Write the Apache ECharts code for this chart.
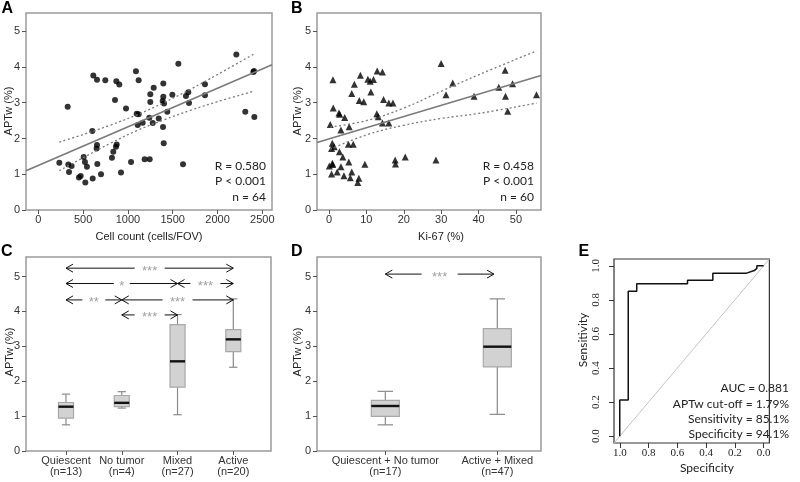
<!DOCTYPE html>
<html><head><meta charset="utf-8">
<script src="https://cdn.jsdelivr.net/npm/echarts@6/dist/echarts.min.js"></script>
<style>html,body{margin:0;padding:0;background:#fff}#c{width:800px;height:482px}</style>
</head><body><div id="c"></div>
<script>
// ---------- Panel A: APTw vs cell count ----------
const cellCount = [328,614,655,748,871,904,856,979,1090,1120,1098,1120,1109,1165,1250,1288,1250,1239,1277,1344,1395,1395,1388,1403,1440,1392,1400,1496,1563,1648,1674,1682,1860,1860,2210,2310,2411,2400,2407,603,655,651,867,875,822,837,507,1187,1243,235,335,372,343,521,543,659,700,607,525,473,454,923,1035,1615];
const aptwA = [2.89,3.76,3.64,3.63,3.60,3.51,3.08,2.84,3.88,3.63,2.69,2.68,2.38,2.44,3.24,3.42,3.02,2.58,2.43,2.56,3.54,3.17,3.05,2.98,2.75,2.32,1.87,3.22,4.09,3.19,3.29,2.99,3.52,3.21,4.35,2.75,2.60,3.86,3.89,2.21,1.82,1.72,1.77,1.83,1.46,1.63,1.48,1.42,1.42,1.32,1.27,1.23,1.06,1.34,1.21,1.29,1.00,0.88,0.77,0.95,0.91,1.05,1.34,1.28];
const fitAx = [-137, 2608];
const fitAy = [1.10, 4.06];
const ciAx = [235, 500, 800, 1100, 1400, 1700, 2000, 2410];
const ciAup = [1.90, 2.11, 2.37, 2.66, 3.00, 3.38, 3.79, 4.37];
const ciAlo = [1.10, 1.46, 1.86, 2.22, 2.52, 2.79, 3.03, 3.33];
const ticksAx = [0, 500, 1000, 1500, 2000, 2500];
const ticksY5 = [0, 1, 2, 3, 4, 5];
const statsA = ['R = 0.580', 'P < 0.001', 'n = 64'];

// ---------- Panel B: APTw vs Ki-67 ----------
const ki67 = [1.07,1.15,0.35,2.67,2.85,4.2,5.4,3.2,6.1,6.8,8.4,8.1,9.3,10.4,11.0,11.9,11.2,12.9,14.3,14.6,12.8,13.2,16.0,17.1,14.3,16.0,30.0,31.3,33.1,38.8,45.4,47.1,47.2,47.8,49.1,55.5,0.9,1.4,0.7,5.2,6.5,2.8,3.7,0.1,0.9,1.0,3.2,5.3,0.7,2.2,4.0,6.1,5.7,8.0,7.7,9.6,17.7,17.8,20.4,28.6];
const aptwB = [3.64,2.85,2.39,2.71,2.68,2.59,2.33,2.24,3.26,3.52,3.77,3.06,3.03,3.66,3.60,3.65,3.30,3.89,3.86,3.09,2.69,2.61,2.99,2.99,2.43,2.43,4.10,3.22,3.55,3.18,3.43,3.91,3.18,2.76,3.53,3.22,1.87,1.77,1.72,1.84,1.84,1.63,1.48,1.23,1.31,1.27,1.21,1.34,1.01,1.06,0.96,1.06,0.90,0.89,0.77,1.28,1.40,1.29,1.48,1.40];
const fitBx = [-3.2, 56.7];
const fitBy = [1.89, 3.76];
const ciBx = [0.35, 10, 20, 30, 40, 55.5];
const ciBup = [2.32, 2.50, 2.85, 3.32, 3.78, 4.45];
const ciBlo = [1.70, 2.10, 2.37, 2.56, 2.70, 2.99];
const ticksBx = [0, 10, 20, 30, 40, 50];
const statsB = ['R = 0.458', 'P < 0.001', 'n = 60'];

// ---------- Panel C: four groups ----------
const catsC = ['Quiescent\n(n=13)', 'No tumor\n(n=4)', 'Mixed\n(n=27)', 'Active\n(n=20)'];
const cMin = [0.75, 1.23, 1.04, 2.40];
const cQ1  = [0.94, 1.27, 1.83, 2.85];
const cMed = [1.27, 1.38, 2.57, 3.20];
const cQ3  = [1.39, 1.59, 3.62, 3.48];
const cMax = [1.63, 1.70, 3.91, 4.36];
// comparisons: from group, to group, height, significance
const cmpFrom = [1, 1, 3, 1, 2, 2];
const cmpTo   = [4, 3, 4, 2, 4, 3];
const cmpY    = [5.24, 4.80, 4.80, 4.33, 4.33, 3.90];
const cmpSig  = ['***', '*', '***', '**', '***', '***'];

// ---------- Panel D: two groups ----------
const catsD = ['Quiescent + No tumor\n(n=17)', 'Active + Mixed\n(n=47)'];
const dMin = [0.75, 1.05];
const dQ1  = [0.99, 2.41];
const dMed = [1.29, 2.99];
const dQ3  = [1.45, 3.51];
const dMax = [1.71, 4.36];
const cmpDFrom = [1.0];
const cmpDTo = [1.97];
const cmpDY = [5.07];
const cmpDSig = ['***'];

// ---------- Panel E: ROC ----------
const rocSpec = [1.0, 1.0, 0.941, 0.941, 0.882, 0.882, 0.529, 0.529, 0.353, 0.353, 0.118, 0.065, 0.047, 0.047, 0.0];
const rocSens = [0.0, 0.213, 0.213, 0.851, 0.851, 0.894, 0.894, 0.915, 0.915, 0.957, 0.957, 0.972, 0.985, 1.0, 1.0];
const diagSpec = [1.04, -0.04];
const diagSens = [-0.04, 1.04];
const ticksE = [0, 0.2, 0.4, 0.6, 0.8, 1.0];
const statsE = ['AUC = 0.881', 'APTw cut-off = 1.79%', 'Sensitivity = 85.1%', 'Specificity = 94.1%'];

// ---------- build ----------
const zip = (a, b) => a.map((v, i) => [v, b[i]]);
const SANS = '"Liberation Sans", Arial, sans-serif';
const CAL = 'Lato, "Open Sans", sans-serif';

function valAxis(gi, min, max, ticks, fmt, margin, extra) {
  return Object.assign({
    type: 'value', gridIndex: gi, min: min, max: max,
    splitLine: { show: false }, axisLine: { show: false, onZero: false },
    axisTick: { show: true, length: 4, lineStyle: { color: '#555' }, customValues: ticks },
    axisLabel: { color: '#333', fontSize: 11, fontFamily: SANS, margin: margin, customValues: ticks,
                 formatter: fmt, showMinLabel: true, showMaxLabel: true }
  }, extra || {});
}

function boxSeries(xi, yi, mins, q1, med, q3, maxs, bw) {
  const rows = mins.map((v, i) => [i + 1, v, q1[i], med[i], q3[i], maxs[i]]);
  return {
    type: 'custom', xAxisIndex: xi, yAxisIndex: yi, silent: true,
    dimensions: ['x', 'min', 'q1', 'med', 'q3', 'max'],
    encode: { x: 0, y: [1, 2, 3, 4, 5] },
    data: rows,
    renderItem(params, api) {
      const x = api.value(0);
      const pMin = api.coord([x, api.value(1)]);
      const pQ1 = api.coord([x, api.value(2)]);
      const pMed = api.coord([x, api.value(3)]);
      const pQ3 = api.coord([x, api.value(4)]);
      const pMax = api.coord([x, api.value(5)]);
      const w = api.size([bw, 0])[0];
      const cw = w * 0.55;
      const cx = pMed[0];
      const g = '#8a8a8a';
      return { type: 'group', children: [
        { type: 'line', shape: { x1: cx, y1: pMin[1], x2: cx, y2: pQ1[1] }, style: { stroke: g, lineWidth: 1.2 } },
        { type: 'line', shape: { x1: cx, y1: pQ3[1], x2: cx, y2: pMax[1] }, style: { stroke: g, lineWidth: 1.2 } },
        { type: 'line', shape: { x1: cx - cw / 2, y1: pMin[1], x2: cx + cw / 2, y2: pMin[1] }, style: { stroke: g, lineWidth: 1.2 } },
        { type: 'line', shape: { x1: cx - cw / 2, y1: pMax[1], x2: cx + cw / 2, y2: pMax[1] }, style: { stroke: g, lineWidth: 1.2 } },
        { type: 'rect', shape: { x: cx - w / 2, y: pQ3[1], width: w, height: pQ1[1] - pQ3[1] }, style: { fill: '#d2d2d2', stroke: '#a8a8a8', lineWidth: 1.2 } },
        { type: 'line', shape: { x1: cx - w / 2, y1: pMed[1], x2: cx + w / 2, y2: pMed[1] }, style: { stroke: '#111', lineWidth: 2.4 } }
      ]};
    }
  };
}

function arrowSeries(xi, yi, from, to, ys, sig, padExtra) {
  const rows = from.map((v, i) => [v, to[i], ys[i]]);
  return {
    type: 'custom', xAxisIndex: xi, yAxisIndex: yi, silent: true,
    dimensions: ['from', 'to', 'y'],
    encode: { x: [0, 1], y: 2 },
    data: rows,
    renderItem(params, api) {
      const p1 = api.coord([api.value(0), api.value(2)]);
      const p2 = api.coord([api.value(1), api.value(2)]);
      const lab = sig[params.dataIndex];
      const y = p1[1];
      const mid = (p1[0] + p2[0]) / 2;
      const hg = 4.5 + 3.5 * lab.length + (padExtra || 0);
      const ah = 7, aw = 4;
      const st = { stroke: '#111', lineWidth: 1, fill: null };
      return { type: 'group', children: [
        { type: 'line', shape: { x1: p1[0], y1: y, x2: mid - hg, y2: y }, style: st },
        { type: 'line', shape: { x1: mid + hg, y1: y, x2: p2[0], y2: y }, style: st },
        { type: 'polyline', shape: { points: [[p1[0] + ah, y - aw], [p1[0], y], [p1[0] + ah, y + aw]] }, style: st },
        { type: 'polyline', shape: { points: [[p2[0] - ah, y - aw], [p2[0], y], [p2[0] - ah, y + aw]] }, style: st },
        { type: 'text', x: mid, y: y + 3, style: { text: lab, fill: '#a0a0a0', font: '13px ' + SANS,
          align: 'center', verticalAlign: 'middle', textAlign: 'center', textVerticalAlign: 'middle' } }
      ]};
    }
  };
}

function txt(t, x, y, opt) {
  opt = opt || {};
  return {
    type: 'text', x: x, y: y, rotation: opt.rot || 0, silent: true,
    style: { text: t, fill: opt.color || '#222', font: opt.font || ('11px ' + SANS),
      align: opt.align || 'center', verticalAlign: 'middle',
      textAlign: opt.align || 'center', textVerticalAlign: 'middle' }
  };
}

const gridStyle = { show: true, borderColor: '#9a9a9a', borderWidth: 1.5, backgroundColor: 'transparent' };

const option = {
  animation: false,
  backgroundColor: '#fff',
  grid: [
    Object.assign({ left: 26, top: 13, width: 246, height: 197 }, gridStyle),
    Object.assign({ left: 317, top: 13, width: 224, height: 197 }, gridStyle),
    Object.assign({ left: 26, top: 257, width: 245, height: 194 }, gridStyle),
    Object.assign({ left: 317, top: 257, width: 224, height: 194 }, gridStyle),
    { show: true, left: 614, top: 259, width: 184, height: 184, borderColor: '#333', borderWidth: 1.2, backgroundColor: 'transparent' }
  ],
  xAxis: [
    valAxis(0, -137, 2608, ticksAx, v => String(v), 4),
    valAxis(1, -3.2, 56.7, ticksBx, v => String(v), 4),
    valAxis(2, 0.283, 4.676, [1, 2, 3, 4], v => catsC[Math.round(v) - 1], 5,
      { axisLabel: { color: '#333', fontSize: 11, fontFamily: SANS, margin: 5, lineHeight: 10.5, customValues: [1, 2, 3, 4],
        formatter: v => catsC[Math.round(v) - 1], showMinLabel: true, showMaxLabel: true } }),
    valAxis(3, 0.39, 2.39, [1, 2], v => catsD[Math.round(v) - 1], 5,
      { axisLabel: { color: '#333', fontSize: 11, fontFamily: SANS, margin: 5, lineHeight: 10.5, customValues: [1, 2],
        formatter: v => catsD[Math.round(v) - 1], showMinLabel: true, showMaxLabel: true } }),
    valAxis(4, -0.04, 1.04, ticksE, v => v.toFixed(1), 5,
      { inverse: true,
        axisTick: { show: true, length: 5, lineStyle: { color: '#333' }, customValues: ticksE },
        axisLabel: { color: '#222', fontSize: 11, fontFamily: '"Liberation Serif", serif', margin: 5, customValues: ticksE,
          formatter: v => v.toFixed(1), showMinLabel: true, showMaxLabel: true } })
  ],
  yAxis: [
    valAxis(0, 0, 5.51, ticksY5, v => String(v), 6),
    valAxis(1, 0, 5.51, ticksY5, v => String(v), 6),
    valAxis(2, 0, 5.56, ticksY5, v => String(v), 6),
    valAxis(3, 0, 5.56, ticksY5, v => String(v), 6),
    valAxis(4, -0.04, 1.04, ticksE, v => v.toFixed(1), 12,
      { axisTick: { show: true, length: 5, lineStyle: { color: '#333' }, customValues: ticksE },
        axisLabel: { color: '#222', fontSize: 11, fontFamily: '"Liberation Serif", serif', margin: 12, rotate: 90, customValues: ticksE,
          formatter: v => v.toFixed(1), showMinLabel: true, showMaxLabel: true } })
  ],
  series: [
    { type: 'line', xAxisIndex: 0, yAxisIndex: 0, data: zip(fitAx, fitAy), showSymbol: false, silent: true,
      lineStyle: { color: '#7a7a7a', width: 1.6 } },
    { type: 'line', xAxisIndex: 0, yAxisIndex: 0, data: zip(ciAx, ciAup), showSymbol: false, smooth: 0.4, silent: true,
      lineStyle: { color: '#7a7a7a', width: 1.3, type: [2, 2.5] } },
    { type: 'line', xAxisIndex: 0, yAxisIndex: 0, data: zip(ciAx, ciAlo), showSymbol: false, smooth: 0.4, silent: true,
      lineStyle: { color: '#7a7a7a', width: 1.3, type: [2, 2.5] } },
    { type: 'scatter', xAxisIndex: 0, yAxisIndex: 0, data: zip(cellCount, aptwA), symbol: 'circle', symbolSize: 6,
      itemStyle: { color: '#000' }, silent: true },

    { type: 'line', xAxisIndex: 1, yAxisIndex: 1, data: zip(fitBx, fitBy), showSymbol: false, silent: true,
      lineStyle: { color: '#7a7a7a', width: 1.6 } },
    { type: 'line', xAxisIndex: 1, yAxisIndex: 1, data: zip(ciBx, ciBup), showSymbol: false, smooth: 0.4, silent: true,
      lineStyle: { color: '#7a7a7a', width: 1.3, type: [2, 2.5] } },
    { type: 'line', xAxisIndex: 1, yAxisIndex: 1, data: zip(ciBx, ciBlo), showSymbol: false, smooth: 0.4, silent: true,
      lineStyle: { color: '#7a7a7a', width: 1.3, type: [2, 2.5] } },
    { type: 'scatter', xAxisIndex: 1, yAxisIndex: 1, data: zip(ki67, aptwB), symbol: 'triangle', symbolSize: 7,
      itemStyle: { color: '#000' }, silent: true },

    boxSeries(2, 2, cMin, cQ1, cMed, cQ3, cMax, 0.27),
    arrowSeries(2, 2, cmpFrom, cmpTo, cmpY, cmpSig, 0),
    boxSeries(3, 3, dMin, dQ1, dMed, dQ3, dMax, 0.25),
    arrowSeries(3, 3, cmpDFrom, cmpDTo, cmpDY, cmpDSig, 3),

    { type: 'line', xAxisIndex: 4, yAxisIndex: 4, data: zip(diagSpec, diagSens), showSymbol: false, silent: true,
      lineStyle: { color: '#c4c4c4', width: 1 } },
    { type: 'line', xAxisIndex: 4, yAxisIndex: 4, data: zip(rocSpec, rocSens), showSymbol: false, silent: true,
      lineStyle: { color: '#111', width: 1.5 } }
  ],
  graphic: [
    txt('A', 1.5, 9, { align: 'left', font: 'bold 16px ' + SANS, color: '#000' }),
    txt('B', 291, 9, { align: 'left', font: 'bold 16px ' + SANS, color: '#000' }),
    txt('C', 1, 251.5, { align: 'left', font: 'bold 16px ' + SANS, color: '#000' }),
    txt('D', 291, 251.5, { align: 'left', font: 'bold 16px ' + SANS, color: '#000' }),
    txt('E', 578.5, 251.5, { align: 'left', font: 'bold 16px ' + SANS, color: '#000' }),

    txt('APTw (%)', 9, 111, { rot: Math.PI / 2 }),
    txt('APTw (%)', 298, 111, { rot: Math.PI / 2 }),
    txt('APTw (%)', 10, 352, { rot: Math.PI / 2 }),
    txt('APTw (%)', 298, 352, { rot: Math.PI / 2 }),
    txt('Cell count (cells/FOV)', 149, 237),
    txt('Ki-67 (%)', 441, 237),
    txt('Sensitivity', 583, 340, { rot: Math.PI / 2, font: '12px ' + CAL }),
    txt('Specificity', 707, 468, { font: '12px ' + CAL }),

    txt(statsA[0], 266, 166, { align: 'right', font: '12px ' + CAL }),
    txt(statsA[1], 266, 181.5, { align: 'right', font: '12px ' + CAL }),
    txt(statsA[2], 266, 197, { align: 'right', font: '12px ' + CAL }),
    txt(statsB[0], 534, 166, { align: 'right', font: '12px ' + CAL }),
    txt(statsB[1], 534, 181.5, { align: 'right', font: '12px ' + CAL }),
    txt(statsB[2], 534, 197, { align: 'right', font: '12px ' + CAL }),

    txt(statsE[0], 789, 388, { align: 'right', font: '12px ' + CAL }),
    txt(statsE[1], 789, 404, { align: 'right', font: '12px ' + CAL }),
    txt(statsE[2], 789, 419.5, { align: 'right', font: '12px ' + CAL }),
    txt(statsE[3], 789, 434.5, { align: 'right', font: '12px ' + CAL })
  ]
};

const chart = echarts.init(document.getElementById('c'), null, { renderer: 'canvas' });
chart.setOption(option);
</script>
</body></html>
